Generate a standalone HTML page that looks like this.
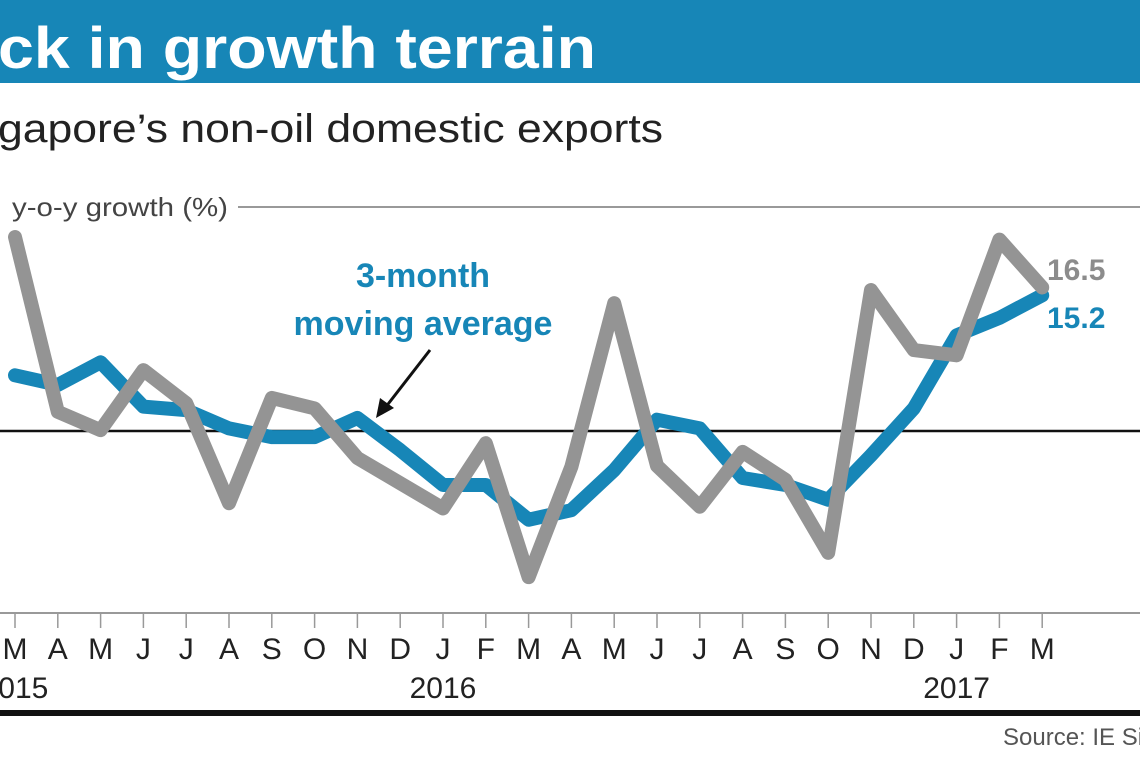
<!DOCTYPE html>
<html><head><meta charset="utf-8"><style>
body{margin:0;width:1140px;height:760px;overflow:hidden;background:#fff;font-family:"Liberation Sans Narrow","Liberation Sans",sans-serif}
</style></head><body>
<svg width="1140" height="760" xmlns="http://www.w3.org/2000/svg">
<rect x="0" y="0" width="1140" height="83" fill="#1786b7"/>
<text x="-2" y="68" fill="#fff" font-family="Liberation Sans" font-weight="bold" font-size="58" textLength="598" lengthAdjust="spacingAndGlyphs">ck in growth terrain</text>
<text x="-2" y="142" fill="#222" font-size="40" textLength="665" lengthAdjust="spacingAndGlyphs">gapore’s non-oil domestic exports</text>
<text x="12" y="216" fill="#444" font-size="26" textLength="216" lengthAdjust="spacingAndGlyphs">y-o-y growth (%)</text>
<line x1="238" y1="207" x2="1140" y2="207" stroke="#999" stroke-width="2"/>
<line x1="0" y1="431" x2="1140" y2="431" stroke="#111" stroke-width="2.5"/>
<line x1="0" y1="613" x2="1140" y2="613" stroke="#999" stroke-width="2"/>
<g id="ticks"></g>
<g id="series"></g>
<text x="423" y="287" text-anchor="middle" fill="#1786b7" font-family="Liberation Sans" font-weight="bold" font-size="34">3-month</text>
<text x="423" y="335" text-anchor="middle" fill="#1786b7" font-family="Liberation Sans" font-weight="bold" font-size="34">moving average</text>
<line x1="430" y1="350" x2="385" y2="408" stroke="#111" stroke-width="3"/>
<polygon points="376,418 380,398 394,408" fill="#111"/>
<text x="1047" y="280" fill="#8c8c8c" font-family="Liberation Sans" font-weight="bold" font-size="30">16.5</text>
<text x="1047" y="328" fill="#1786b7" font-family="Liberation Sans" font-weight="bold" font-size="30">15.2</text>
<rect x="0" y="710" width="1140" height="6" fill="#111"/>
<text x="1003" y="745" fill="#555" font-size="24">Source: IE Si</text>
</svg>
<script>
const months=["M","A","M","J","J","A","S","O","N","D","J","F","M","A","M","J","J","A","S","O","N","D","J","F","M"];
const years=["2015","2016","2017"];
const yearIdx=[0,10,22];
const nodx=[22.3,2.2,0.1,7.0,3.2,-8.3,3.8,2.6,-3.1,-6.0,-8.9,-1.4,-16.8,-4.1,14.7,-4.0,-8.7,-2.4,-5.6,-14.0,16.2,9.3,8.7,22.0,16.5];
const movingAvg=[6.4,5.3,7.9,2.8,2.4,0.3,-0.7,-0.7,1.5,-2.2,-6.2,-6.2,-10.2,-9.1,-4.5,1.3,0.3,-5.4,-6.2,-7.9,-2.8,2.6,11.0,13.0,15.6];
const NS="http://www.w3.org/2000/svg";
const xS=i=>15+i*42.8;
const yS=v=>431-v*8.7;
const tg=document.getElementById('ticks');
months.forEach((m,i)=>{
 const l=document.createElementNS(NS,'line');
 
 
 l.setAttribute('x1',xS(i));l.setAttribute('x2',xS(i));l.setAttribute('y1',613);l.setAttribute('y2',628);
 l.setAttribute('stroke','#999');l.setAttribute('stroke-width','1.5');tg.appendChild(l);
 const t=document.createElementNS(NS,'text');
 
 
 t.setAttribute('x',xS(i));t.setAttribute('y',659);t.setAttribute('text-anchor','middle');
 t.setAttribute('font-size','30');t.setAttribute('fill','#222');t.textContent=m;tg.appendChild(t);
});
years.forEach((y,k)=>{
 const t=document.createElementNS(NS,'text');
 
 
 t.setAttribute('x',xS(yearIdx[k]));t.setAttribute('y',698);t.setAttribute('text-anchor','middle');
 t.setAttribute('font-size','30');t.setAttribute('fill','#222');t.textContent=y;tg.appendChild(t);
});
const sg=document.getElementById('series');
function line(vals,color,name){
 const p=document.createElementNS(NS,'polyline');
 
 
 p.setAttribute('points',vals.map((v,i)=>xS(i)+','+yS(v)).join(' '));
 p.setAttribute('fill','none');p.setAttribute('stroke',color);p.setAttribute('stroke-width','14');
 p.setAttribute('stroke-linejoin','round');p.setAttribute('stroke-linecap','round');
 sg.appendChild(p);
}
line(movingAvg,'#1786b7','moving-average-line');
line(nodx,'#949494','nodx-line');
</script>
</body></html>
